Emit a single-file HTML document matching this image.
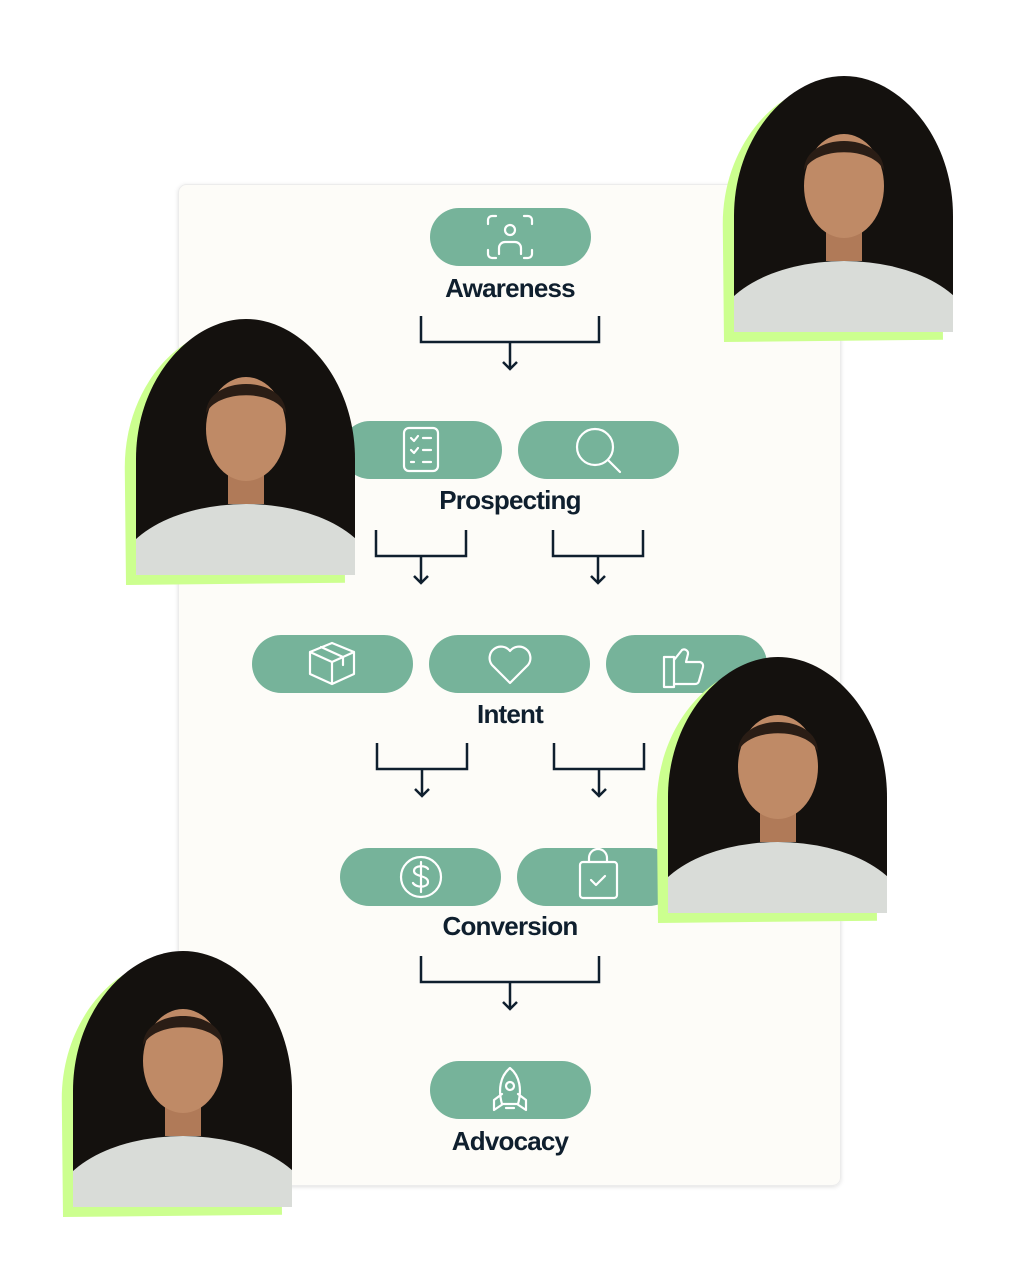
<!DOCTYPE html>
<html><head><meta charset="utf-8"><style>
html,body{margin:0;padding:0;background:#fff;}
svg{display:block;}
text{font-family:"Liberation Sans",sans-serif;font-weight:bold;fill:#0f1f2e;font-size:26px;letter-spacing:-0.8px;}
</style></head><body>
<svg width="1028" height="1280" viewBox="0 0 1028 1280" xmlns="http://www.w3.org/2000/svg">
<defs>
<filter id="sh" x="-5%" y="-5%" width="110%" height="110%"><feDropShadow dx="0" dy="1" stdDeviation="2" flood-color="#000" flood-opacity="0.12"/></filter>
<path id="archp" d="M0,256 L0,140 C0,60 55,0 110,0 C165,0 219,60 219,140 L219,256 Z"/>
<clipPath id="arch"><use href="#archp"/></clipPath>
<g id="photo">
 <use href="#archp" fill="#ccff8f" transform="translate(-10,10) rotate(-0.6 0 256)"/>
 <g clip-path="url(#arch)">
  <rect width="219" height="256" fill="#14110e"/>
  <ellipse cx="110" cy="260" rx="130" ry="75" fill="#d9dcd8"/>
  <rect x="92" y="135" width="36" height="50" fill="#b07a58"/>
  <ellipse cx="110" cy="110" rx="40" ry="52" fill="#bf8a66"/>
  <path d="M70,95 C70,55 150,55 150,95 C140,70 80,70 70,95Z" fill="#2a1d15"/>
 </g>
</g>
</defs>

<rect x="178.5" y="184.5" width="662" height="1001" rx="8" fill="#fdfcf8" stroke="#ececec" filter="url(#sh)"/>

<g fill="#76b39a">
<rect x="430" y="208" width="161" height="58" rx="29"/>
<rect x="341" y="421" width="161" height="58" rx="29"/>
<rect x="518" y="421" width="161" height="58" rx="29"/>
<rect x="252" y="635" width="161" height="58" rx="29"/>
<rect x="429" y="635" width="161" height="58" rx="29"/>
<rect x="606" y="635" width="161" height="58" rx="29"/>
<rect x="340" y="848" width="161" height="58" rx="29"/>
<rect x="517" y="848" width="161" height="58" rx="29"/>
<rect x="430" y="1061" width="161" height="58" rx="29"/>
</g>

<g fill="none" stroke="#fff" stroke-width="2.2" stroke-linecap="round" stroke-linejoin="round">
 <path d="M488,224 v-4 a4,4 0 0 1 4,-4 h4 M524,216 h4 a4,4 0 0 1 4,4 v4 M532,250 v4 a4,4 0 0 1 -4,4 h-4 M496,258 h-4 a4,4 0 0 1 -4,-4 v-4"/>
 <circle cx="510" cy="230" r="5"/><path d="M499,254 v-6 a6,6 0 0 1 6,-6 h10 a6,6 0 0 1 6,6 v6"/>
 <rect x="404" y="428" width="34" height="43" rx="5"/><path d="M411,438 l3,3 4,-5 M423,438 h8 M411,450 l3,3 4,-5 M423,450 h8 M411,462 h3 M423,462 h8"/>
 <circle cx="595" cy="447" r="18"/><path d="M608,460 l12,12"/>
 <path d="M310,652 l22,-9 22,9 v22 l-22,10 -22,-10 z M310,652 l22,10 22,-10 M332,662 v22 M321,647 l22,10 v8"/>
 <path d="M510,683 l-18,-18 a11,11 0 0 1 18,-14 a11,11 0 0 1 18,14 z"/>
 <path d="M664,657 h10 v30 h-10 z M674,660 l8,-10 a4,4 0 0 1 6,4 l-2,8 h14 a4,4 0 0 1 3,5 l-4,14 a4,4 0 0 1 -4,3 h-21"/>
 <circle cx="421" cy="877" r="20"/><path d="M428,869 c-2,-4 -14,-4 -14,2 c0,6 14,4 14,11 c0,6 -12,6 -15,1 M421,862 v30"/>
 <rect x="580" y="862" width="37" height="36" rx="3"/><path d="M589,862 v-4 a9,9 0 0 1 18,0 v4 M591,880 l5,5 9,-9"/>
 <path d="M510,1068 c-10,8 -12,22 -8,36 h16 c4,-14 2,-28 -8,-36z M502,1094 l-8,6 v10 l9,-6 M518,1094 l8,6 v10 l-9,-6 M506,1108 h8"/><circle cx="510" cy="1086" r="4"/>
</g>

<text x="510" y="297" text-anchor="middle">Awareness</text>
<text x="510" y="509" text-anchor="middle">Prospecting</text>
<text x="510" y="723" text-anchor="middle">Intent</text>
<text x="510" y="935" text-anchor="middle">Conversion</text>
<text x="510" y="1150" text-anchor="middle">Advocacy</text>

<g fill="none" stroke="#0f1f2e" stroke-width="2.5">
 <path d="M421,316 v26 h178 v-26 M510,342 v27 M503,362 l7,7 7,-7"/>
 <path d="M376,530 v26 h90 v-26 M421,556 v27 M414,576 l7,7 7,-7"/>
 <path d="M553,530 v26 h90 v-26 M598,556 v27 M591,576 l7,7 7,-7"/>
 <path d="M377,743 v26 h90 v-26 M422,769 v27 M415,789 l7,7 7,-7"/>
 <path d="M554,743 v26 h90 v-26 M599,769 v27 M592,789 l7,7 7,-7"/>
 <path d="M421,956 v26 h178 v-26 M510,982 v27 M503,1002 l7,7 7,-7"/>
</g>

<use href="#photo" x="734" y="76"/>
<use href="#photo" x="136" y="319"/>
<use href="#photo" x="668" y="657"/>
<use href="#photo" x="73" y="951"/>
</svg>
</body></html>
